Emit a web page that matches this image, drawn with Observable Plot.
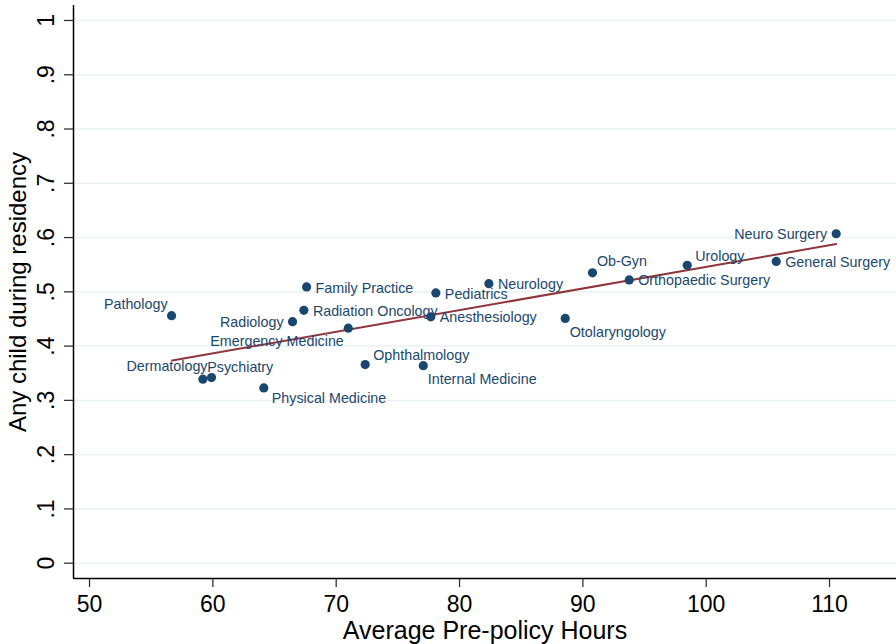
<!DOCTYPE html>
<html>
<head>
<meta charset="utf-8">
<script src="https://cdn.jsdelivr.net/npm/d3@7"></script>
<script src="https://cdn.jsdelivr.net/npm/@observablehq/plot@0.6"></script>
<style>
  html, body { margin: 0; padding: 0; background: #fff; }
  #chart svg { display: block; }
</style>
</head>
<body>
<div id="chart"></div>
<script>
// ---- Data ----
const specialties = [
  "Pathology", "Psychiatry", "Dermatology", "Physical Medicine", "Radiology",
  "Radiation Oncology", "Family Practice", "Emergency Medicine", "Ophthalmology",
  "Internal Medicine", "Anesthesiology", "Pediatrics", "Neurology", "Otolaryngology",
  "Ob-Gyn", "Orthopaedic Surgery", "Urology", "General Surgery", "Neuro Surgery"
];
const avgHours = [
  56.65, 59.19, 59.89, 64.13, 66.46,
  67.38, 67.60, 70.98, 72.35,
  77.06, 77.67, 78.08, 82.38, 88.57,
  90.78, 93.76, 98.46, 105.68, 110.54
];
const anyChild = [
  0.456, 0.339, 0.342, 0.323, 0.445,
  0.466, 0.509, 0.433, 0.366,
  0.364, 0.454, 0.498, 0.515, 0.451,
  0.535, 0.522, 0.549, 0.556, 0.607
];
// fitted line end points
const fitHours = [56.7, 110.54];
const fitValues = [0.3735, 0.588];

const xTicks = [50, 60, 70, 80, 90, 100, 110];
const yTicks = [0, 0.1, 0.2, 0.3, 0.4, 0.5, 0.6, 0.7, 0.8, 0.9, 1];
const yTickLabels = ["0", ".1", ".2", ".3", ".4", ".5", ".6", ".7", ".8", ".9", "1"];

// ---- Label placement (style: clock positions, Stata-like) ----
const labelClock = {
  "Pathology": 11, "Psychiatry": 1, "Dermatology": 11, "Physical Medicine": 4,
  "Radiology": 9, "Radiation Oncology": 3, "Family Practice": 3,
  "Emergency Medicine": 7, "Ophthalmology": 2, "Internal Medicine": 5,
  "Anesthesiology": 3, "Pediatrics": 3, "Neurology": 3, "Otolaryngology": 5,
  "Ob-Gyn": 1, "Orthopaedic Surgery": 3, "Urology": 2, "General Surgery": 3,
  "Neuro Surgery": 9
};
const clockOffsets = {
  1: {dx: 4.4, dy: -11.3, anchor: "start"},
  2: {dx: 8, dy: -8.7, anchor: "start"},
  3: {dx: 9, dy: 1, anchor: "start"},
  4: {dx: 8, dy: 10.4, anchor: "start"},
  5: {dx: 4.5, dy: 14, anchor: "start"},
  7: {dx: -4.5, dy: 13.3, anchor: "end"},
  9: {dx: -9, dy: 0.7, anchor: "end"},
  11: {dx: -4, dy: -11.6, anchor: "end"}
};

const points = specialties.map((s, i) => ({name: s, hours: avgHours[i], child: anyChild[i]}));
const fit = fitHours.map((h, i) => ({hours: h, child: fitValues[i]}));

const navy = "#1a476f";
const maroon = "#90353b";
const font = "'Liberation Sans', Arial, Helvetica, sans-serif";

const xDomain = [48.70, 115.43];
const yDomain = [-0.0282, 1.0276];

const labelMarks = Object.entries(clockOffsets).map(([clock, o]) =>
  Plot.text(points.filter(d => labelClock[d.name] === +clock), {
    x: "hours", y: "child", text: "name",
    dx: o.dx, dy: o.dy, textAnchor: o.anchor,
    fill: navy, fontSize: 14.3, lineAnchor: "middle"
  })
);

const chart = Plot.plot({
  width: 896,
  height: 644,
  marginTop: 5,
  marginBottom: 66,
  marginLeft: 73,
  marginRight: 0,
  style: {fontFamily: font, background: "#fff", color: "#000"},
  x: {domain: xDomain, axis: null},
  y: {domain: yDomain, axis: null},
  marks: [
    Plot.gridY(yTicks, {stroke: "#eaf2f3", strokeOpacity: 1, strokeWidth: 1.5}),
    Plot.axisX({ticks: xTicks, tickSize: 9, tickPadding: 8, fontSize: 23, label: null, strokeWidth: 1.3, stroke: "#333"}),
    Plot.axisY({ticks: yTicks, tickSize: 9, tickFormat: () => "", label: null, strokeWidth: 1.3, stroke: "#333"}),
    Plot.text(yTicks, {
      y: d => d, text: (d, i) => yTickLabels[i], frameAnchor: "left",
      dx: -27, rotate: -90, textAnchor: "middle", lineAnchor: "middle",
      fontSize: 23, fill: "#000"
    }),
    Plot.ruleX([xDomain[0]], {stroke: "#000", strokeWidth: 1.5}),
    Plot.ruleY([yDomain[0]], {stroke: "#000", strokeWidth: 1.5}),
    Plot.line(fit, {x: "hours", y: "child", stroke: maroon, strokeWidth: 2}),
    Plot.dot(points, {x: "hours", y: "child", r: 4.6, fill: navy, stroke: "none"}),
    ...labelMarks,
    Plot.text(["Any child during residency"], {
      text: d => d, frameAnchor: "left", dx: -55, rotate: -90,
      textAnchor: "middle", lineAnchor: "middle", fontSize: 24, fill: "#000"
    }),
    Plot.text(["Average Pre-policy Hours"], {
      text: d => d, frameAnchor: "bottom", dy: 52,
      textAnchor: "middle", lineAnchor: "middle", fontSize: 25, fill: "#000"
    })
  ]
});
document.getElementById("chart").append(chart);
</script>
</body>
</html>
